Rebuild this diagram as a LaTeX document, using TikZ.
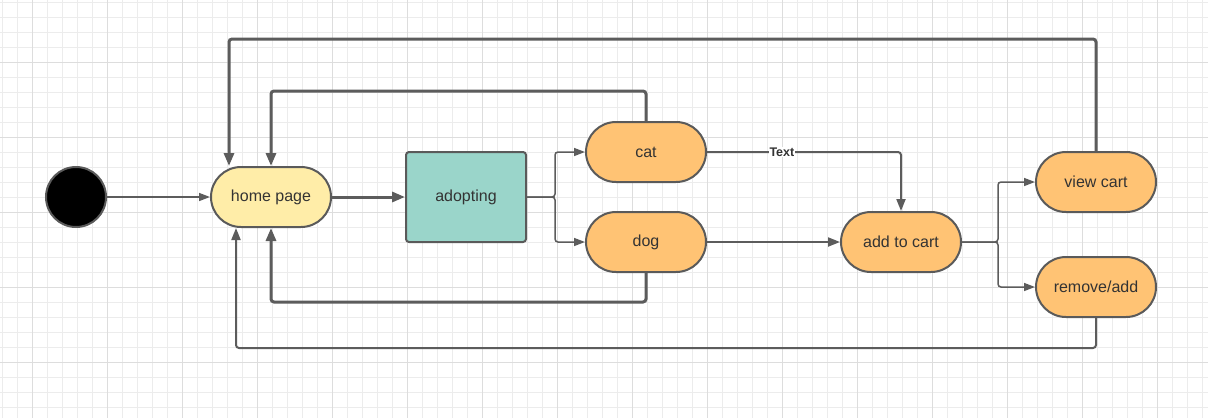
\documentclass[tikz,border=0pt]{standalone}
\usepackage{fontspec}
\setmainfont{Liberation Sans}
\usetikzlibrary{arrows.meta,calc}
\definecolor{lineC}{HTML}{5C5C5C}
\definecolor{nodeC}{HTML}{5A5A5A}
\definecolor{textC}{HTML}{333333}
\definecolor{orangeC}{HTML}{FFC374}
\definecolor{yellowC}{HTML}{FFEDA8}
\definecolor{tealC}{HTML}{9AD5CA}
\definecolor{gridMinor}{HTML}{ECECEC}
\definecolor{gridMajor}{HTML}{DDDDDD}
\tikzset{
  state/.style={draw=nodeC, line width=2pt, rounded corners=30pt, minimum width=120pt,
    minimum height=60pt, fill=orangeC, font=\fontsize{16}{19}\selectfont, text=textC, inner sep=0pt},
  box/.style={draw=nodeC, line width=2pt, rounded corners=3pt, minimum width=120pt,
    minimum height=90pt, fill=tealC, font=\fontsize{16}{19}\selectfont, text=textC, inner sep=0pt},
  startnode/.style={circle, fill=black, draw=nodeC, line width=2pt, minimum size=60pt, inner sep=0pt},
  thickarr/.style={draw=lineC, line width=3pt, -{Triangle[length=13pt,width=10pt]}, rounded corners=3pt},
  medarr/.style={draw=lineC, line width=2pt, -{Triangle[length=12pt,width=9pt]}, rounded corners=3pt},
  thinarr/.style={draw=lineC, line width=1.5pt, -{Triangle[length=11pt,width=8pt]}, rounded corners=3pt},
  lbl/.style={fill=white, inner sep=0.5pt, text=textC, font=\fontsize{12.5}{14}\selectfont\bfseries},
  minorline/.style={draw=gridMinor, line width=1pt},
  majorline/.style={draw=gridMajor, line width=1pt},
}
\begin{document}
\begin{tikzpicture}[x=1pt,y=-1pt]
\fill[white] (0,0) rectangle (1208,418);
\useasboundingbox (0,0) rectangle (1208,418);
% grid
\foreach \x in {2,17,...,1207} \draw[minorline] (\x,0) -- (\x,418);
\foreach \y in {2,17,...,417} \draw[minorline] (0,\y) -- (1208,\y);
\foreach \x in {32,107,...,1207} \draw[majorline] (\x,0) -- (\x,418);
\foreach \y in {62,137,...,417} \draw[majorline] (0,\y) -- (1208,\y);

% nodes
\node[startnode] (start) at (76,197) {};
\node[state, fill=yellowC] (home) at (271,197) {home page};
\node[box] (adopt) at (466,197) {adopting};
\node[state] (cat) at (646,152) {cat};
\node[state] (dog) at (646,242) {dog};
\node[state] (add) at (901,242) {add to cart};
\node[state] (vc) at (1096,182) {view cart};
\node[state] (rem) at (1096,287) {remove/add};

% helper coordinates
\coordinate (b1) at (555,197);
\coordinate (b2) at (998,242);
\coordinate (topA) at (0,91);
\coordinate (botA) at (0,302);
\coordinate (tl) at (229,39);
\coordinate (bl) at (236,348);

% connectors
\draw[thinarr] (start) -- (home);
\draw[thickarr] (home) -- (adopt);
\draw[thinarr] (adopt.east) -- (b1) |- (cat.west);
\draw[thinarr] (adopt.east) -- (b1) |- (dog.west);
\draw[thickarr] (cat.north) |- (home.north |- topA) -- (home.north);
\draw[thickarr] (dog.south) |- (home.south |- botA) -- (home.south);
\draw[medarr] (cat.east) -| (add.north) node[lbl, pos=0.193] {Text};
\draw[medarr] (dog.east) -- (add.west);
\draw[thinarr] (add.east) -- (b2) |- (vc.west);
\draw[thinarr] (add.east) -- (b2) |- (rem.west);
\draw[thickarr] (vc.north) |- (tl) -- (tl |- home.north);
\draw[medarr] (rem.south) |- (bl) -- (bl |- home.south);
\end{tikzpicture}
\end{document}
